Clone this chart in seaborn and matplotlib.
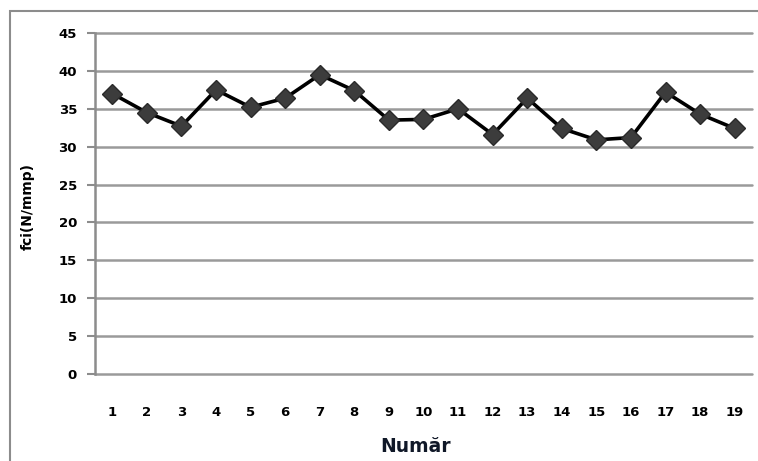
import matplotlib
matplotlib.use("Agg")
import matplotlib.pyplot as plt
import seaborn as sns
import pandas as pd
from matplotlib.patches import Rectangle

# Sample number and measured strength
numar = list(range(1, 20))
fci = [37.0, 34.5, 32.7, 37.5, 35.2, 36.4, 39.5, 37.4, 33.5, 33.6,
       35.0, 31.6, 36.4, 32.4, 30.9, 31.2, 37.2, 34.3, 32.4]
y_ticks = [0, 5, 10, 15, 20, 25, 30, 35, 40, 45]

df = pd.DataFrame({"pos": [n - 1 for n in numar], "fci": fci})

sns.set_style("white")
plt.rcParams["font.family"] = ["DejaVu Sans"]

fig = plt.figure(figsize=(7.58, 4.61), dpi=100)
fig.patch.set_facecolor("white")

# outer chart frame
fig.patches.append(Rectangle((10 / 758, -0.1), 1.2, 1 - 11 / 461 + 0.1,
                             transform=fig.transFigure, fill=False,
                             edgecolor="#8c8c8c", linewidth=1.5, zorder=0))

ax = fig.add_axes([95 / 758, 1 - 374 / 461, (752 - 95) / 758, (374 - 33) / 461])

for v in y_ticks:
    ax.axhline(v, color="#9a9a9a", linewidth=1.8, zorder=1, clip_on=False)

sns.lineplot(data=df, x="pos", y="fci", ax=ax, color="black", linewidth=2.6,
             marker="D", markersize=10.5, markerfacecolor="#3c3c3c",
             markeredgecolor="#2a2a2a", markeredgewidth=1, zorder=3)

ax.set_xlim(-0.5, len(numar) - 0.5)
ax.set_ylim(0, 45)
ax.set_yticks(y_ticks)
ax.set_yticklabels([str(v) for v in y_ticks], fontsize=9.5, fontweight="bold",
                   color="black")
ax.set_xticks(range(len(numar)))
ax.set_xticklabels([str(n) for n in numar], fontsize=9.5, fontweight="bold",
                   color="black")
ax.tick_params(axis="y", length=6, width=1.5, color="#8c8c8c", pad=7, left=True)
ax.tick_params(axis="x", length=0, pad=23)

for s in ["top", "right", "bottom"]:
    ax.spines[s].set_visible(False)
ax.spines["left"].set_color("#8c8c8c")
ax.spines["left"].set_linewidth(1.8)

ax.set_xlabel("")
ax.set_ylabel("")
fig.text(416 / 758, 1 - 446 / 461, "Număr", ha="center", va="center",
         fontsize=13.5, fontweight="bold", color="#101828")
fig.text(28 / 758, 1 - 206 / 461, "fci(N/mmp)", ha="center", va="center",
         rotation=90, fontsize=10, fontweight="bold", color="black")

fig.savefig("out.png", dpi=100, facecolor="white")
